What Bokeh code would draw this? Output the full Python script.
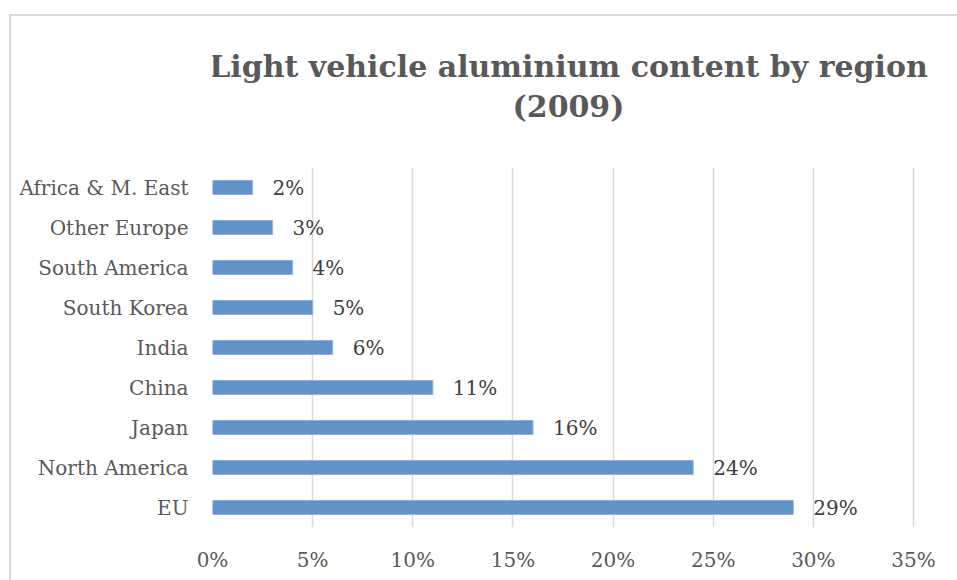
from bokeh.plotting import figure
from bokeh.models import (ColumnDataSource, NumeralTickFormatter, Range1d, FactorRange,
                          FixedTicker, Label, InlineStyleSheet)
from bokeh.core.properties import value
from bokeh.embed import file_html
from bokeh.resources import INLINE

regions = ["EU", "North America", "Japan", "China", "India", "South Korea",
           "South America", "Other Europe", "Africa & M. East"]
shares = [0.29, 0.24, 0.16, 0.11, 0.06, 0.05, 0.04, 0.03, 0.02]
share_labels = ["29%", "24%", "16%", "11%", "6%", "5%", "4%", "3%", "2%"]
x_ticks = [0.0, 0.05, 0.10, 0.15, 0.20, 0.25, 0.30, 0.35]
title_line1 = "Light vehicle aluminium content by region"
title_line2 = "(2009)"

# empty spacer slots above the categories leave room for the title inside the frame
spacers = ["", " ", "  ", "   "]

src = ColumnDataSource(dict(region=regions, share=shares, label=share_labels))

# frame spans to the right edge so the title is not clipped; keep 0..35% over 703px
frame_w = 957 - 212
x_end = 0.351 * frame_w / 703

p = figure(width=957, height=580, output_backend="svg", toolbar_location=None,
           y_range=FactorRange(*(regions + spacers), range_padding=0),
           x_range=Range1d(0, x_end),
           min_border_left=212, min_border_right=0, min_border_top=7, min_border_bottom=53,
           title=None)

p.hbar(y="region", right="share", left=0, height=0.35, source=src,
       fill_color="#5F93C9", line_color="#8DB3DC", line_width=1)

p.text(x="share", y="region", text="label", source=src, x_offset=20,
       text_baseline="middle", text_font=value("DejaVu Serif"), text_font_size="20px",
       text_color="#404040")

for txt, ypos in ((title_line1, 461), (title_line2, 421)):
    p.add_layout(Label(x=356, y=ypos, x_units="screen", y_units="screen", text=txt,
                       text_align="center", text_baseline="alphabetic",
                       text_font="DejaVu Serif", text_font_style="bold",
                       text_font_size="30px", text_color="#595959"))

p.xaxis.ticker = FixedTicker(ticks=x_ticks)
p.xaxis.formatter = NumeralTickFormatter(format="0%")
p.xaxis.axis_line_color = None
p.xaxis.major_tick_line_color = None
p.xaxis.minor_tick_line_color = None
p.xaxis.major_label_text_font = "DejaVu Serif"
p.xaxis.major_label_text_font_size = "20px"
p.xaxis.major_label_text_color = "#595959"
p.xaxis.major_label_standoff = 14

p.yaxis.axis_line_color = None
p.yaxis.major_tick_line_color = None
p.yaxis.minor_tick_line_color = None
p.yaxis.major_label_text_font = "DejaVu Serif"
p.yaxis.major_label_text_font_size = "20px"
p.yaxis.major_label_text_color = "#595959"
p.yaxis.major_label_standoff = 18

p.xgrid.grid_line_color = "#d9d9d9"
p.xgrid.grid_line_width = 1.5
p.xgrid.cross_bounds = (0, len(regions))
p.ygrid.grid_line_color = None
p.outline_line_color = None

p.stylesheets = [InlineStyleSheet(css=""":host::after {
  content: ""; position: absolute; left: 9px; top: 14px; right: 0; bottom: 0;
  border-left: 2px solid #d9d9d9; border-top: 2px solid #d9d9d9; pointer-events: none;
}""")]

open("out.html", "w").write(file_html(p, INLINE))
